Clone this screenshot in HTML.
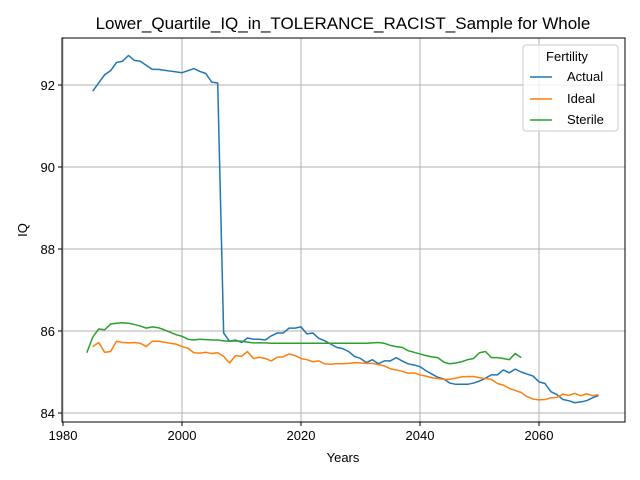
<!DOCTYPE html>
<html><head><meta charset="utf-8"><style>body{margin:0;background:#fff}svg{display:block;font-family:"Liberation Sans","DejaVu Sans",sans-serif}</style></head>
<body>
<svg id="chart" width="640" height="480"></svg>
<script>
const years1=[];for(let y=1985;y<=2070;y++)years1.push(y);
const actual=[91.85,92.05,92.25,92.35,92.55,92.58,92.72,92.6,92.58,92.48,92.38,92.38,92.36,92.34,92.32,92.3,92.35,92.4,92.33,92.28,92.07,92.05,85.95,85.75,85.78,85.72,85.83,85.8,85.8,85.78,85.88,85.95,85.95,86.07,86.07,86.1,85.93,85.95,85.82,85.76,85.68,85.6,85.57,85.5,85.38,85.33,85.23,85.3,85.2,85.27,85.27,85.35,85.27,85.2,85.17,85.13,85.03,84.95,84.87,84.83,84.73,84.7,84.7,84.7,84.73,84.78,84.85,84.93,84.93,85.05,84.98,85.07,85.0,84.95,84.9,84.76,84.72,84.52,84.45,84.33,84.3,84.25,84.27,84.3,84.37,84.43];
const ideal=[85.62,85.72,85.48,85.5,85.75,85.72,85.71,85.72,85.7,85.62,85.75,85.75,85.73,85.7,85.68,85.62,85.58,85.47,85.46,85.48,85.45,85.47,85.38,85.22,85.4,85.38,85.5,85.33,85.36,85.33,85.27,85.36,85.37,85.44,85.4,85.33,85.3,85.25,85.27,85.2,85.19,85.2,85.2,85.21,85.23,85.22,85.21,85.21,85.18,85.15,85.08,85.05,85.02,84.97,84.98,84.93,84.9,84.86,84.84,84.82,84.82,84.85,84.88,84.89,84.89,84.86,84.84,84.82,84.72,84.68,84.6,84.55,84.5,84.4,84.34,84.32,84.33,84.37,84.38,84.46,84.43,84.48,84.42,84.47,84.42,84.45];
const years2=[];for(let y=1984;y<=2057;y++)years2.push(y);
const sterile=[85.47,85.85,86.05,86.03,86.17,86.19,86.2,86.19,86.16,86.12,86.07,86.1,86.08,86.03,85.97,85.91,85.87,85.8,85.78,85.8,85.79,85.78,85.78,85.76,85.75,85.76,85.75,85.73,85.71,85.71,85.71,85.7,85.7,85.7,85.7,85.7,85.7,85.7,85.7,85.7,85.7,85.7,85.7,85.7,85.7,85.7,85.7,85.7,85.71,85.72,85.7,85.65,85.62,85.6,85.52,85.48,85.44,85.4,85.37,85.35,85.24,85.2,85.22,85.25,85.3,85.33,85.47,85.5,85.35,85.35,85.33,85.3,85.45,85.35];
const xTicks=[1980,2000,2020,2040,2060];
const yTicks=[84,86,88,90,92];
const L=62,R=625,T=38,B=422;
const x=v=>63+(v-1980)*(539-63)/80;
const y=v=>413-(v-84)*(413-85)/8;
const svg=document.getElementById('chart');const NS='http://www.w3.org/2000/svg';
function mk(t,a,p){const e=document.createElementNS(NS,t);for(const k in a)e.setAttribute(k,a[k]);(p||svg).appendChild(e);return e;}
xTicks.forEach(t=>{const g=mk('line',{x1:x(t),x2:x(t),y1:T,y2:B,stroke:'#b0b0b0','stroke-width':1});

mk('line',{x1:x(t),x2:x(t),y1:B,y2:B+4,stroke:'#000'});
const tx=mk('text',{x:x(t),y:B+18,'text-anchor':'middle','font-size':13});tx.textContent=t;
});
yTicks.forEach(t=>{const g=mk('line',{x1:L,x2:R,y1:y(t),y2:y(t),stroke:'#b0b0b0','stroke-width':1});

mk('line',{x1:L-4,x2:L,y1:y(t),y2:y(t),stroke:'#000'});
const tx=mk('text',{x:L-7,y:y(t)+5,'text-anchor':'end','font-size':13});tx.textContent=t;
});
function line(xs,ys,c,name){const p=mk('polyline',{points:xs.map((v,i)=>x(v)+','+y(ys[i])).join(' '),fill:'none',stroke:c,'stroke-width':1.5,'stroke-linejoin':'round'});
}
line(years1,actual,'#1f77b4','actual-line');
line(years1,ideal,'#ff7f0e','ideal-line');
line(years2,sterile,'#2ca02c','sterile-line');
const fr=mk('rect',{x:L,y:T,width:R-L,height:B-T,fill:'none',stroke:'#000','stroke-width':1});

</script>
<svg width="640" height="480" style="position:absolute;left:0;top:0">
<text x="343" y="29" text-anchor="middle" font-size="17">Lower_Quartile_IQ_in_TOLERANCE_RACIST_Sample for Whole</text>
<text x="343" y="462" text-anchor="middle" font-size="13">Years</text>
<text x="27" y="230" text-anchor="middle" font-size="13" transform="rotate(-90 27 230)">IQ</text>
<g>
<rect x="523" y="45" width="95" height="86" rx="3" fill="#fff" fill-opacity="0.8" stroke="#ccc"/>
<text x="567" y="61" text-anchor="middle" font-size="13">Fertility</text>
<line x1="530" x2="552" y1="77" y2="77" stroke="#1f77b4" stroke-width="1.5"/><text x="567" y="81" font-size="13">Actual</text>
<line x1="530" x2="552" y1="99" y2="99" stroke="#ff7f0e" stroke-width="1.5"/><text x="567" y="103" font-size="13">Ideal</text>
<line x1="530" x2="552" y1="120" y2="120" stroke="#2ca02c" stroke-width="1.5"/><text x="567" y="124" font-size="13">Sterile</text>
</g></svg>
</body></html>
